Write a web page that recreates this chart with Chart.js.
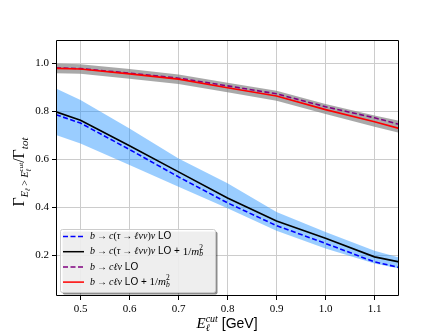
<!DOCTYPE html>
<html><head><meta charset="utf-8">
<script src="https://cdn.jsdelivr.net/npm/chart.js@4.4.0/dist/chart.umd.min.js"></script>
<style>html,body{margin:0;padding:0;background:#fff}canvas{display:block}</style>
</head><body>
<canvas id="c" width="444" height="333" style="width:444px;height:333px"></canvas>
<script>
// ---- data ----
const energies   = [0.45, 0.5, 0.6, 0.7, 0.8, 0.9, 1.0, 1.1, 1.15];
const tauLO      = [0.785, 0.750, 0.640, 0.526, 0.418, 0.323, 0.249, 0.172, 0.149];
const tauNLO     = [0.797, 0.762, 0.656, 0.547, 0.438, 0.342, 0.270, 0.193, 0.172];
const tauBandHi  = [0.894, 0.846, 0.728, 0.603, 0.499, 0.380, 0.297, 0.218, 0.190];
const tauBandLo  = [0.700, 0.665, 0.575, 0.485, 0.395, 0.302, 0.228, 0.165, 0.145];
const clnuLO     = [0.980, 0.977, 0.958, 0.937, 0.905, 0.872, 0.818, 0.772, 0.745];
const clnuNLO    = [0.978, 0.975, 0.955, 0.933, 0.897, 0.863, 0.806, 0.756, 0.728];
const clnuBandHi = [0.998, 0.995, 0.975, 0.952, 0.918, 0.885, 0.830, 0.782, 0.760];
const clnuBandLo = [0.958, 0.955, 0.935, 0.913, 0.878, 0.843, 0.788, 0.735, 0.710];
const xTicks = [0.5, 0.6, 0.7, 0.8, 0.9, 1.0, 1.1];
const yTicks = [0.2, 0.4, 0.6, 0.8, 1.0];

const pts = arr => energies.map((e, i) => ({x: e, y: arr[i]}));
const SERIF = '"Liberation Serif", "DejaVu Serif", serif';
const SANS = '"Liberation Sans", "DejaVu Sans", sans-serif';

function fontOf(s){ return (s.i ? 'italic ' : '') + s.size + 'px ' + (s.fam || SERIF); }
function drawSegs(ctx, segs, x, y, align){
  let w = 0;
  segs.forEach(s => { ctx.font = fontOf(s); s.w = ctx.measureText(s.t).width; if(!s.noAdv) w += s.w; });
  let cx = align === 'center' ? x - w/2 : x;
  segs.forEach(s => { ctx.font = fontOf(s); ctx.fillText(s.t, cx, y + (s.dy || 0)); if(!s.noAdv) cx += s.w; });
}

const AR = '\u2009→\u2009';
const legendItems = [
  {color:'#0000ff', dash:[5,2.5], segs:[
    {t:'b',i:1,size:10},{t:AR,size:10},{t:'c',i:1,size:10},{t:'(',size:10},{t:'τ',i:1,size:10},{t:AR,size:10},{t:'ℓνν',i:1,size:10},{t:')',size:10},{t:'ν',i:1,size:10},{t:' LO',size:10,fam:SANS}]},
  {color:'#000000', dash:[], segs:[
    {t:'b',i:1,size:10},{t:AR,size:10},{t:'c',i:1,size:10},{t:'(',size:10},{t:'τ',i:1,size:10},{t:AR,size:10},{t:'ℓνν',i:1,size:10},{t:')',size:10},{t:'ν',i:1,size:10},{t:' LO + ',size:10,fam:SANS},
    {t:'1/',size:11},{t:'m',i:1,size:11},{t:'b',i:1,size:7.5,dy:2.5,noAdv:1},{t:'2',size:7.5,dy:-4}]},
  {color:'#800080', dash:[5,2.5], segs:[
    {t:'b',i:1,size:10},{t:AR,size:10},{t:'cℓν',i:1,size:10},{t:' LO',size:10,fam:SANS}]},
  {color:'#ff0000', dash:[], segs:[
    {t:'b',i:1,size:10},{t:AR,size:10},{t:'cℓν',i:1,size:10},{t:' LO + ',size:10,fam:SANS},
    {t:'1/',size:11},{t:'m',i:1,size:11},{t:'b',i:1,size:7.5,dy:2.5,noAdv:1},{t:'2',size:7.5,dy:-4}]}
];

const decor = {
  id:'decor',
  afterDatasetsDraw(chart){
    const {ctx, chartArea:a} = chart;
    ctx.save();
    ctx.lineWidth = 1;
    ctx.strokeStyle = '#000';
    ctx.beginPath();
    ctx.moveTo(Math.round(a.left)+0.5, Math.round(a.top)+0.5);
    ctx.lineTo(Math.round(a.right)-0.5, Math.round(a.top)+0.5);
    ctx.lineTo(Math.round(a.right)-0.5, Math.round(a.bottom)-0.5);
    ctx.lineTo(Math.round(a.left)+0.5, Math.round(a.bottom)-0.5);
    ctx.closePath();
    ctx.stroke();
    ctx.restore();
  },
  afterDraw(chart){
    const {ctx, chartArea:a} = chart;
    ctx.save();
    // legend box
    const bx = 60.5, by = 229.5, bw = 155, bh = 63;
    ctx.fillStyle = 'rgba(0,0,0,0.45)';
    ctx.beginPath(); ctx.roundRect(bx+2, by+2, bw, bh, 2); ctx.fill();
    ctx.fillStyle = 'rgba(255,255,255,0.85)';
    ctx.strokeStyle = '#cccccc'; ctx.lineWidth = 1;
    ctx.beginPath(); ctx.roundRect(bx, by, bw, bh, 2); ctx.fill(); ctx.stroke();
    ctx.textBaseline = 'middle'; ctx.textAlign = 'left';
    legendItems.forEach((it, k) => {
      const y = 236.5 + k*15.2;
      ctx.strokeStyle = it.color; ctx.lineWidth = 1.5; ctx.setLineDash(it.dash);
      ctx.beginPath(); ctx.moveTo(63, y); ctx.lineTo(84, y); ctx.stroke();
      ctx.setLineDash([]);
      ctx.fillStyle = '#000';
      drawSegs(ctx, it.segs, 90, y, 'left');
    });
    // x axis title
    ctx.fillStyle = '#000';
    ctx.textBaseline = 'alphabetic';
    drawSegs(ctx, [
      {t:'E',i:1,size:15},{t:'ℓ',i:1,size:10,dy:3,noAdv:1},{t:'cut',i:1,size:10,dy:-6},
      {t:' [GeV]',size:14,fam:SANS}], 227, 328, 'center');
    // y axis title
    ctx.translate(24, 172);
    ctx.rotate(-Math.PI/2);
    drawSegs(ctx, [
      {t:'Γ',size:16},{t:'E',i:1,size:10,dy:4},{t:'ℓ',i:1,size:7,dy:6},{t:' > ',size:10,dy:4},
      {t:'E',i:1,size:10,dy:4},{t:'ℓ',i:1,size:7,dy:7,noAdv:1},{t:'cut',i:1,size:7,dy:-1},
      {t:'/Γ',size:16},{t:'tot',i:1,size:11,dy:4}], 0, 0, 'center');
    ctx.restore();
  }
};

const bandBlue = 'rgba(30,144,255,0.45)';
const bandGrey = 'rgba(128,128,128,0.68)';

new Chart(document.getElementById('c'), {
  type:'line',
  data:{ datasets:[
    {data:pts(tauBandHi), fill:'+1', backgroundColor:bandBlue, borderWidth:0, pointRadius:0, order:10},
    {data:pts(tauBandLo), fill:false, borderWidth:0, pointRadius:0, order:10},
    {data:pts(clnuBandHi), fill:'+1', backgroundColor:bandGrey, borderWidth:0, pointRadius:0, order:10},
    {data:pts(clnuBandLo), fill:false, borderWidth:0, pointRadius:0, order:10},
    {data:pts(tauLO), borderColor:'#0000ff', borderDash:[5,2.5], borderWidth:1.6, pointRadius:0, fill:false, order:4},
    {data:pts(tauNLO), borderColor:'#000000', borderWidth:1.6, pointRadius:0, fill:false, order:3},
    {data:pts(clnuLO), borderColor:'#800080', borderDash:[5,2.5], borderWidth:1.6, pointRadius:0, fill:false, order:2},
    {data:pts(clnuNLO), borderColor:'#ff0000', borderWidth:1.6, pointRadius:0, fill:false, order:1}
  ]},
  options:{
    responsive:false, animation:false, devicePixelRatio:1,
    layout:{padding:{left:0, top:40, right:45, bottom:0}},
    plugins:{legend:{display:false}, tooltip:{enabled:false}},
    scales:{
      x:{type:'linear', min:0.45, max:1.15,
        afterBuildTicks: s => { s.ticks = xTicks.map(v => ({value:v})); },
        afterFit: s => { s.height = 37; },
        ticks:{callback:v => v.toFixed(1), color:'#000', font:{family:SERIF, size:11}, padding:3, maxRotation:0},
        grid:{color:'#cccccc', lineWidth:1, tickColor:'#000', tickLength:4},
        border:{display:false}},
      y:{type:'linear', min:0.03, max:1.096,
        afterBuildTicks: s => { s.ticks = yTicks.map(v => ({value:v})); },
        afterFit: s => { s.width = 56; },
        ticks:{callback:v => v.toFixed(1), color:'#000', font:{family:SERIF, size:11}, padding:3},
        grid:{color:'#cccccc', lineWidth:1, tickColor:'#000', tickLength:4},
        border:{display:false}}
    }
  },
  plugins:[decor]
});
</script>
</body></html>
